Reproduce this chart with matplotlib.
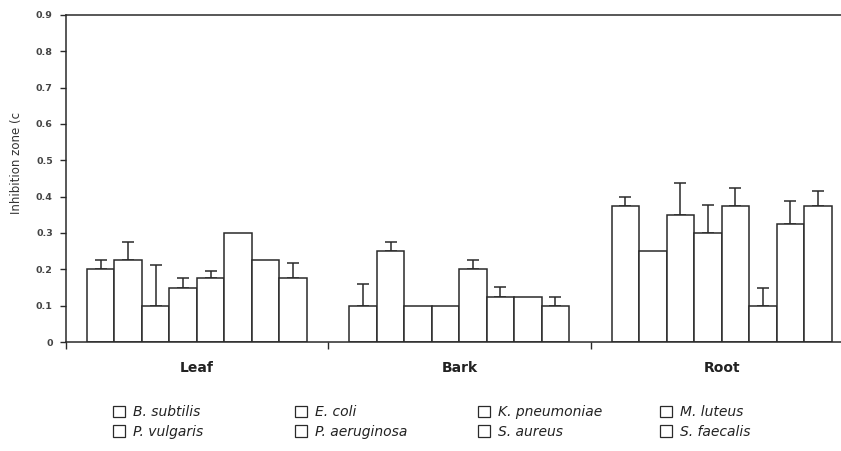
import matplotlib
matplotlib.use("Agg")
import matplotlib.pyplot as plt
from matplotlib.patches import Patch
import numpy as np

plt.rcParams['font.family'] = ['DejaVu Sans']

groups = ["Leaf", "Bark", "Root"]
organisms = ["B. subtilis", "E. coli", "K. pneumoniae", "M. luteus",
             "P. vulgaris", "P. aeruginosa", "S. aureus", "S. faecalis"]

leaf = [0.20, 0.225, 0.10, 0.15, 0.175, 0.30, 0.225, 0.175]
bark = [0.10, 0.25, 0.10, 0.10, 0.20, 0.125, 0.125, 0.10]
root = [0.375, 0.25, 0.35, 0.30, 0.375, 0.10, 0.325, 0.375]

leaf_err = [0.025, 0.05, 0.113, 0.025, 0.021, None, None, 0.042]
bark_err = [0.06, 0.026, None, None, 0.025, 0.027, None, 0.025]
root_err = [0.025, None, 0.087, 0.077, 0.049, 0.048, 0.063, 0.041]

values = [leaf, bark, root]
errors = [leaf_err, bark_err, root_err]

fig = plt.figure(figsize=(8.41, 4.51), dpi=100)
ax = fig.add_axes([66/841, 1 - 342/451, 787/841, 327/451])

edge = '#2a2a2a'
bw = 27.5/262.5
off = 21/262.5
for s in range(len(organisms)):
    xs = [g + off + s*bw for g in range(len(groups))]
    hs = [values[g][s] for g in range(len(groups))]
    ax.bar(xs, hs, width=bw, align='edge', facecolor='white',
           edgecolor=edge, linewidth=1.1, zorder=2)
    for g in range(len(groups)):
        e = errors[g][s]
        if e is not None:
            ax.errorbar(xs[g] + bw/2, hs[g], yerr=[[0], [e]], fmt='none',
                        ecolor=edge, elinewidth=1.1, capsize=4, capthick=1.1,
                        zorder=1)

ax.set_xlim(0, 3)
ax.set_ylim(0, 0.9)
ax.set_yticks(np.arange(0, 0.91, 0.1))
ax.set_yticklabels(["0"] + ["%.1f" % v for v in np.arange(0.1, 0.91, 0.1)],
                   fontsize=6.8, fontweight='bold', color='#444444')
ax.tick_params(axis='y', direction='out', length=4, width=1, color=edge, pad=5.5)
ax.set_xticks([0, 1, 2, 3])
ax.set_xticklabels([])
ax.tick_params(axis='x', direction='out', length=5, width=1, color=edge)
ax.set_xticks([0.5, 1.5, 2.5], minor=True)
ax.set_xticklabels(groups, minor=True, fontsize=10, fontweight='bold', color='#222222')
ax.tick_params(axis='x', which='minor', length=0, pad=14)
for sp in ax.spines.values():
    sp.set_color(edge)
    sp.set_linewidth(1.1)

fig.text(17/841, 1 - 163/451, "Inhibition zone (c", rotation=90, fontsize=8.5,
         ha='center', va='center', color='#333333')

col_x = [113, 295, 478, 660]
for c in range(4):
    idx = [c, c + 4]
    hs_ = [Patch(facecolor='white', edgecolor=edge, linewidth=0.9) for _ in idx]
    leg = fig.legend(hs_, [organisms[i] for i in idx], ncol=1,
                     loc='center left', bbox_to_anchor=(col_x[c]/841, 1 - 422/451),
                     frameon=False, prop={'style': 'italic', 'size': 10},
                     handlelength=0.86, handleheight=0.86, handletextpad=0.6,
                     labelspacing=0.4, borderpad=0, borderaxespad=0)
    for t in leg.get_texts():
        t.set_color('#222222')

fig.savefig("out.png", dpi=100)
